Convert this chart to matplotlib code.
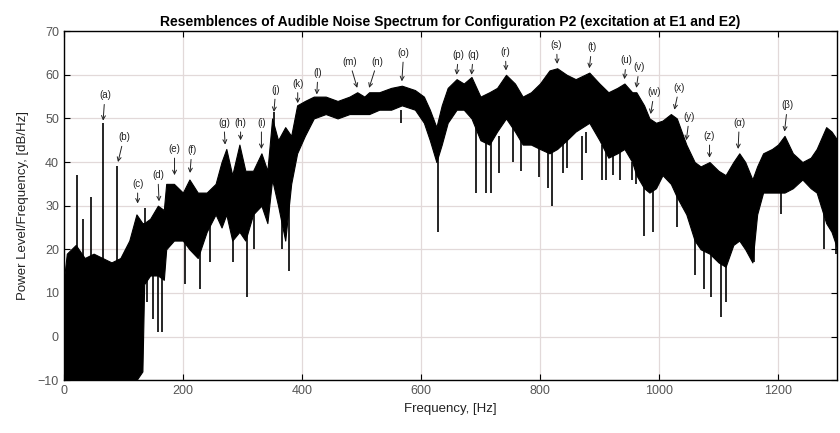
import matplotlib
matplotlib.use("Agg")
import matplotlib.pyplot as plt

plt.rcParams['font.family'] = ['Liberation Sans', 'DejaVu Sans']

# Envelope of the spectrum
freq_hz = [0, 5, 20, 35, 50, 65, 80, 95, 110, 122, 132, 135, 145, 158, 168, 172, 185, 200, 211,
           225, 240, 255, 265, 273, 283, 295, 305, 318, 332, 342, 350, 360, 372, 382, 392, 405,
           420, 440, 460, 480, 493, 505, 513, 530, 550, 568, 590, 605, 615, 626, 635, 645, 660,
           672, 685, 700, 715, 728, 743, 758, 771, 785, 800, 816, 829, 845, 860, 883, 900, 915,
           930, 942, 955, 962, 975, 984, 995, 1006, 1020, 1030, 1046, 1060, 1070, 1085, 1100,
           1112, 1125, 1135, 1145, 1157, 1165, 1175, 1190, 1200, 1211, 1225, 1241, 1255, 1265,
           1281, 1290, 1300]
upper_db = [13, 19, 21, 18, 19, 18, 17, 18, 22, 28, 26, 26, 27, 30, 29, 35, 35, 33, 36,
            33, 33, 35, 40, 43, 37, 44, 38, 38, 42, 38, 50, 45, 48, 46, 53, 54,
            55, 55, 54, 55, 56, 55, 56, 56, 57, 57.5, 56.5, 55, 52, 48, 53, 57, 59,
            58, 59.5, 55, 56, 57, 60, 58, 55, 56, 58, 61, 61.5, 60, 59, 60.5, 58, 56,
            57, 58, 56, 56, 53, 50, 49, 49.5, 51, 50, 44, 40, 39, 40, 38,
            37, 40, 42, 40, 36, 39, 42, 43, 44, 46, 42, 40, 41, 43,
            48, 47, 45]
lower_db = [-10, -10, -10, -10, -10, -10, -10, -10, -10, -10, -8, 12, 14, 14, 13, 20, 22, 22, 20,
            18, 24, 28, 25, 28, 22, 24, 22, 28, 30, 26, 36, 30, 22, 35, 42, 46,
            50, 51, 50, 51, 51, 51, 51, 52, 52, 53, 52, 49, 45, 40, 44, 49, 52,
            52, 50, 45, 44, 47, 50, 47, 44, 44, 43, 42, 43, 45, 47, 49, 45, 41,
            42, 43, 40, 37, 34, 33, 34, 37, 35, 32, 28, 22, 20, 19, 17,
            16, 21, 22, 20, 17, 28, 33, 33, 33, 33, 34, 36, 34, 33,
            26, 24, 20]

# Narrow spikes: frequency, start level, end level
spike_hz = [22, 32, 45, 65, 90, 136, 353,
            140, 150, 158, 165, 203, 228, 245, 284, 307, 320, 366, 379, 567,
            628, 693, 710, 718, 732, 754, 768, 799, 813, 821, 838, 846, 870, 878,
            905, 911, 922, 935, 955, 962,
            975, 990, 1030, 1060, 1075, 1088, 1105, 1112, 1160, 1205, 1278, 1297]
spike_from_db = [15, 15, 15, 15, 15, 20, 40,
                 20, 20, 20, 20, 25, 25, 28, 30, 30, 30, 40, 40, 52,
                 45, 48, 45, 45, 46, 48, 46, 44, 44, 44, 46, 46, 46, 47,
                 44, 44, 44, 44, 40, 40,
                 36, 36, 35, 24, 24, 22, 20, 20, 22, 33, 30, 25]
spike_to_db = [37, 27, 32, 49, 39, 29.5, 51.5,
               8, 4, 1, 1, 12, 11, 17, 17, 9, 20, 20, 15, 49,
               24, 33, 33, 33, 37.4, 40, 38, 36.6, 34, 30, 37.4, 38.6, 36, 42,
               36, 36, 37, 36, 36, 35,
               23, 24, 25, 14, 11, 9, 4.5, 8, 17, 28, 20, 19]

# Peak labels
label_text = ['(a)', '(b)', '(c)', '(d)', '(e)', '(f)', '(g)', '(h)', '(i)', '(j)', '(k)', '(l)',
              '(m)', '(n)', '(o)', '(p)', '(q)', '(r)', '(s)', '(t)', '(u)', '(v)', '(w)', '(x)',
              '(y)', '(z)', '(α)', '(β)']
label_text_hz = [69, 101, 124, 158, 186, 215, 269, 297, 332, 356, 393, 427, 480, 527, 571, 663,
                 688, 742, 828, 887, 945, 967, 992, 1034, 1051, 1085, 1135, 1216]
label_text_db = [55.3, 45.7, 35, 37, 43, 42.7, 49, 49, 49, 56.5, 58, 60.4, 63, 63, 65, 64.5,
                 64.5, 65.2, 66.8, 66.3, 63.3, 61.7, 56, 57, 50.3, 46, 49, 53]
label_tip_hz = [66, 91, 124, 160, 186, 212, 271, 297, 332, 353, 393, 425, 493, 513, 568, 660,
                685, 743, 829, 883, 942, 962, 986, 1026, 1046, 1085, 1133, 1211]
label_tip_db = [49.5, 40, 30.5, 31, 37, 37.5, 44, 45, 43, 51.5, 53.5, 55.5, 57, 57, 58.5, 60,
                60, 61, 62.5, 61.5, 59, 57, 51, 52, 45, 41, 43, 47]

x_ticks = [0, 200, 400, 600, 800, 1000, 1200]
y_ticks = [-10, 0, 10, 20, 30, 40, 50, 60, 70]

fig = plt.figure(figsize=(8.4, 4.33), dpi=100)
ax = fig.add_axes([0.076, 0.122, 0.921, 0.806])

ax.fill_between(freq_hz, lower_db, upper_db, color='black', linewidth=0.8, edgecolor='black', zorder=3)
ax.vlines(spike_hz, spike_from_db, spike_to_db, color='black', linewidth=1.2, zorder=3)

for t, tx, ty, px, py in zip(label_text, label_text_hz, label_text_db, label_tip_hz, label_tip_db):
    ax.annotate(t, xy=(px, py), xytext=(tx, ty), fontsize=7, ha='center', va='center',
                color='#222222',
                arrowprops=dict(arrowstyle='->', lw=0.7, color='#222222', shrinkA=1, shrinkB=0),
                zorder=4)

ax.set_xlim(0, 1300)
ax.set_ylim(-10, 70)
ax.set_xticks(x_ticks)
ax.set_yticks(y_ticks)
ax.grid(True, color='#e2d9d9', linewidth=0.9, zorder=0)
ax.set_axisbelow(True)
ax.tick_params(direction='in', top=True, right=True, labelsize=9, labelcolor='#555555',
               length=4, width=0.8)
for s in ax.spines.values():
    s.set_linewidth(1.0)

ax.set_xlabel('Frequency, [Hz]', fontsize=9.5, color='#222222', labelpad=4)
ax.set_ylabel('Power Level/Frequency, [dB/Hz]', fontsize=9.5, color='#222222', labelpad=6)
ax.set_title('Resemblences of Audible Noise Spectrum for Configuration P2 (excitation at E1 and E2)',
             fontsize=10, fontweight='bold', pad=4)

fig.savefig('out.png', dpi=100)
